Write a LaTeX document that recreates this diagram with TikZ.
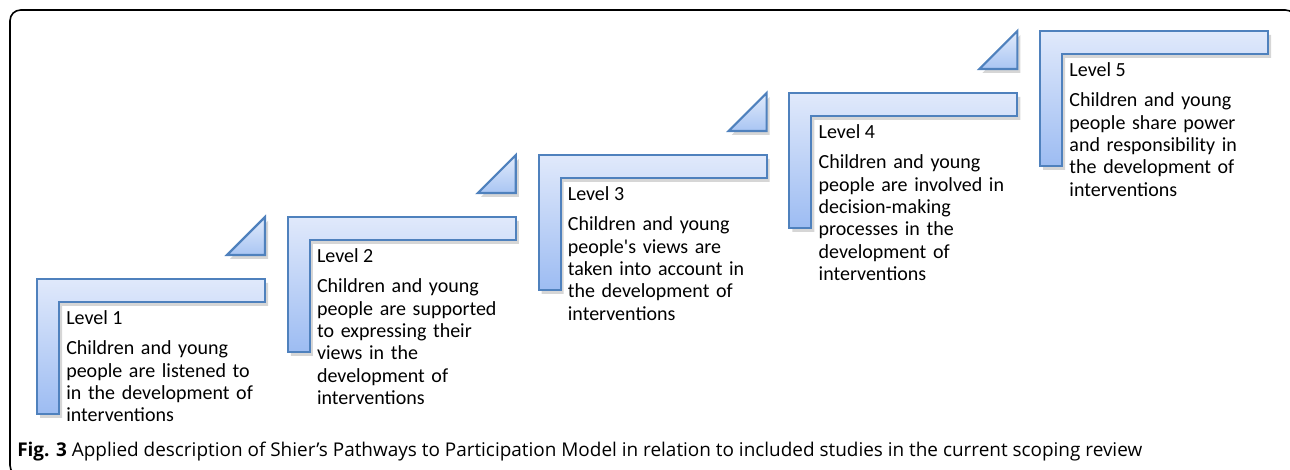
\documentclass[tikz,border=0pt]{standalone}
\usepackage{fontspec}
\setmainfont{Carlito}
\newfontfamily\capfont{Open Sans}
\definecolor{stepline}{HTML}{4F81BD}
\definecolor{steptop}{HTML}{E0E9FB}
\definecolor{stepbot}{HTML}{9DBCF2}
\definecolor{tritop}{HTML}{E2EBFB}
\definecolor{tribot}{HTML}{A9C5F3}
\tikzset{
  stair/.style={draw=stepline, line width=1.6pt, line join=miter, top color=steptop, bottom color=stepbot},
  wedge/.style={draw=stepline, line width=1.6pt, line join=miter, top color=tritop, bottom color=tribot},
  shade/.style={fill=black, opacity=.16},
  lvltext/.style={anchor=base west, inner sep=0pt},
  desctext/.style={anchor=base west, inner sep=0pt, text width=200, align=left}
}
\begin{document}
\begin{tikzpicture}[x=0.75pt, y=-0.75pt, font=\fontsize{15}{16.7}\selectfont]
\useasboundingbox (0,0) rectangle (1290,470);
\clip (0,0) rectangle (1290,470);
% outer frame (runs off to the right and bottom)
\draw[line width=1.2pt, rounded corners=8] (10,10) rectangle (1296,476);
% five steps, each one 250.8 right and 62 up of the last
\foreach \i in {1,...,5} {
  \pgfmathsetmacro\xo{37+(\i-1)*250.8}
  \pgfmathsetmacro\yo{279-(\i-1)*62}
  \fill[shade] (\xo+3,\yo+4) -- ++(228,0) -- ++(0,23) -- ++(-206,0) -- ++(0,112) -- ++(-22,0) -- cycle;
  \draw[stair] (\xo,\yo) -- ++(228,0) -- ++(0,23) -- ++(-206,0) -- ++(0,112) -- ++(-22,0) -- cycle;
  % small wedge above the right end of the bar
  \ifnum\i<5
    \fill[shade] (\xo+231,\yo-58) -- (\xo+231,\yo-20) -- (\xo+193,\yo-20) -- cycle;
    \draw[wedge] (\xo+228,\yo-62) -- (\xo+228,\yo-24) -- (\xo+190,\yo-24) -- cycle;
  \fi
  \node[lvltext] (lvl\i) at (\xo+29,\yo+46) {Level \i};
}
% descriptions
\foreach \i/\desc in {
  1/{Children and young\\people are listened to\\in the development of\\interventions},
  2/{Children and young\\people are supported\\to expressing their\\views in the\\development of\\interventions},
  3/{Children and young\\people\textquotesingle s views are\\taken into account in\\the development of\\interventions},
  4/{Children and young\\people are involved in\\decision-making\\processes in the\\development of\\interventions},
  5/{Children and young\\people share power\\and responsibility in\\the development of\\interventions}} {
  \node[desctext] (desc\i) at ([yshift=-22.5pt]lvl\i.base west) {\desc};
}
% caption
\node[anchor=base west, inner sep=0pt, font=\capfont\fontsize{14.2}{15}\selectfont] (cap) at (17,457)
  {\textbf{Fig. 3} Applied description of Shier’s Pathways to Participation Model in relation to included studies in the current scoping review};
\end{tikzpicture}
\end{document}
